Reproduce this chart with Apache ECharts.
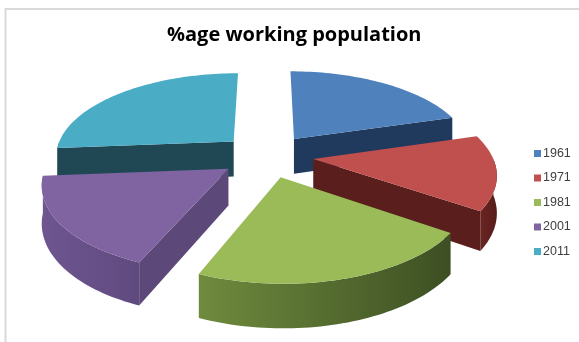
<!DOCTYPE html>
<html><head><meta charset="utf-8">
<script src="https://cdn.jsdelivr.net/npm/echarts@6/dist/echarts.min.js"></script>
<style>html,body{margin:0;padding:0;background:#fff}#c{width:579px;height:342px}</style>
</head><body><div id="c"></div>
<script>
// ---- data ----
const categories = ['1961', '1971', '1981', '2001', '2011'];
const values = [20.4, 14.2, 21.7, 17.4, 26.3];
const chartTitle = '%age working population';

// ---- styles ----
const topColors  = ['#4f81bd', '#c0504d', '#9bbb59', '#8064a2', '#4bacc6'];
const faceColors = ['#1f3a5d', '#5a1e1c', '#3f5326', '#5c4879', '#1f4854'];
const wallLight  = ['#2c4d75', '#6a2422', '#6f8b3d', '#6e5691', '#2a6373'];
const wallDark   = ['#1f3a5d', '#561d1b', '#3d4f23', '#5f4a7e', '#1f4854'];

// projection of the tilted, exploded pie (pixels)
const CX = 267, CY = 155.7, R = 179, T = 82.8, D = 6.5, E = 0.26, H = 36;

const total = values.reduce((a, b) => a + b, 0);
const starts = [];
(function () { let acc = 0; values.forEach(v => { starts.push(acc / total * 360); acc += v; }); })();

function proj(X, Z, h) {
  const f = D / (D - Z);
  return [CX + R * X * f, CY + T * Z * f + h * f];
}
const rad = d => d * Math.PI / 180;

function sliceGeom(i) {
  const a0 = starts[i], a1 = a0 + values[i] / total * 360;
  const mid = (a0 + a1) / 2;
  const ex = E * Math.sin(rad(mid)), ez = -E * Math.cos(rad(mid));
  const pt = (th, h) => proj(Math.sin(rad(th)) + ex, -Math.cos(rad(th)) + ez, h);
  const apex = h => proj(ex, ez, h);
  const arc = (from, to, h) => {
    const n = Math.max(4, Math.ceil(Math.abs(to - from) / 1.5));
    const out = [];
    for (let k = 0; k <= n; k++) out.push(pt(from + (to - from) * k / n, h));
    return out;
  };
  return { a0, a1, mid, pt, apex, arc };
}

function makeRender(i) {
  return function () {
    const g = sliceGeom(i);
    const children = [];
    // outer curved wall (front half)
    const lo = Math.max(g.a0, 90), hi = Math.min(g.a1, 270);
    if (hi > lo) {
      const pts = g.arc(lo, hi, 0).concat(g.arc(hi, lo, H));
      children.push({
        type: 'polygon', shape: { points: pts },
        style: { fill: new echarts.graphic.LinearGradient(0, 0, 1, 0, [
          { offset: 0, color: wallLight[i] }, { offset: 1, color: wallDark[i] }]) }
      });
    }
    // radial cut faces
    if (Math.sin(rad(g.a0)) < -0.05) {
      children.push({ type: 'polygon', shape: { points: [g.apex(0), g.pt(g.a0, 0), g.pt(g.a0, H), g.apex(H)] },
        style: { fill: faceColors[i] } });
    }
    if (Math.sin(rad(g.a1)) > 0.05) {
      children.push({ type: 'polygon', shape: { points: [g.apex(0), g.pt(g.a1, 0), g.pt(g.a1, H), g.apex(H)] },
        style: { fill: faceColors[i] } });
    }
    // top surface
    children.push({ type: 'polygon', shape: { points: [g.apex(0)].concat(g.arc(g.a0, g.a1, 0)) },
      style: { fill: topColors[i] } });
    return { type: 'group', children };
  };
}

// depth ordering (back slices first)
const depth = categories.map((c, i) => { const g = sliceGeom(i); return -Math.cos(rad(g.mid)); });
const order = depth.map((d, i) => i).sort((a, b) => depth[a] - depth[b]);
const zOf = {}; order.forEach((idx, r) => { zOf[idx] = 2 + r; });

const series = categories.map((name, i) => ({
  type: 'custom', name, coordinateSystem: 'none', z: zOf[i],
  itemStyle: { color: topColors[i] },
  data: [values[i]],
  renderItem: makeRender(i),
  silent: true, animation: false
}));

const chart = echarts.init(document.getElementById('c'), null, { renderer: 'canvas' });
chart.setOption({
  backgroundColor: '#fff',
  animation: false,
  title: { text: chartTitle, left: 162, top: 20,
    textStyle: { fontFamily: 'Open Sans', fontWeight: 'bold', fontSize: 20, color: '#000' } },
  legend: { data: categories, orient: 'vertical', left: 529, top: 142, icon: 'rect',
    itemWidth: 7, itemHeight: 7, itemGap: 11.5,
    textStyle: { fontFamily: 'Liberation Sans', fontSize: 12.5, color: '#404040', padding: [0, 0, 0, -3] } },
  graphic: [{ type: 'rect', shape: { x: 5.5, y: 9, width: 620, height: 400 },
    style: { fill: 'none', stroke: '#d9d9d9', lineWidth: 2 }, z: 0 }],
  series
});
</script></body></html>
